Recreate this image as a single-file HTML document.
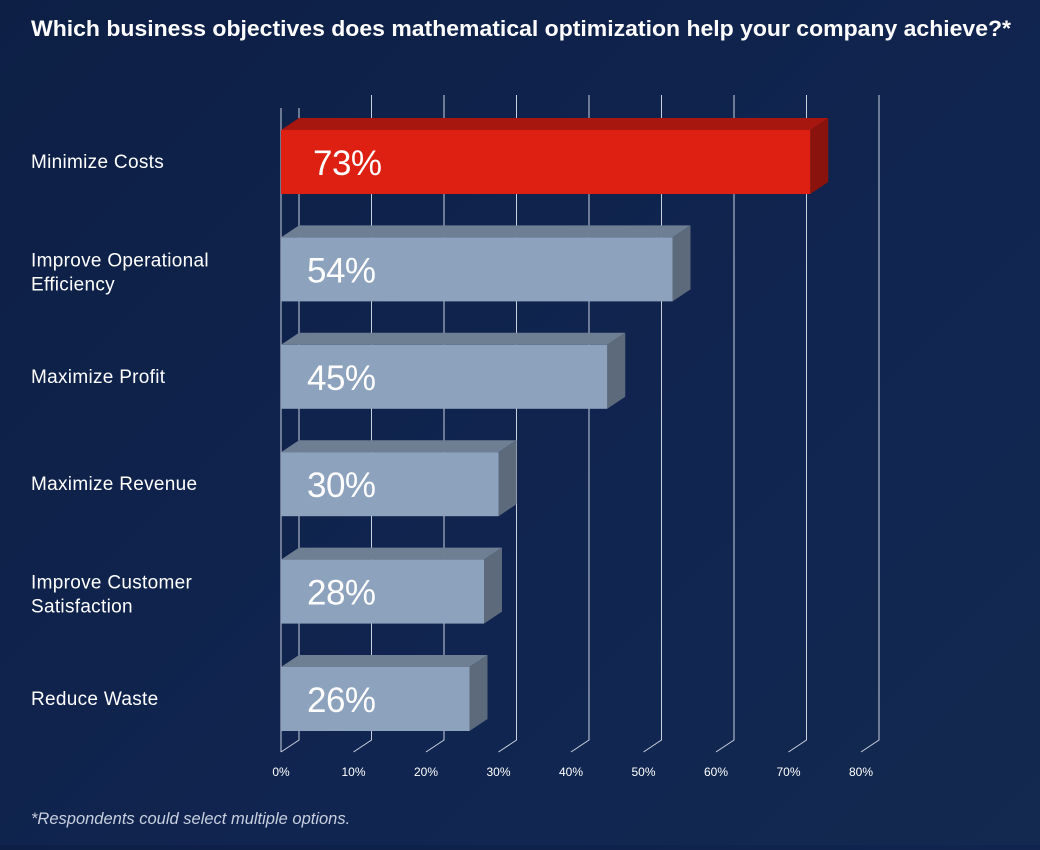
<!DOCTYPE html>
<html><head><meta charset="utf-8"><style>
body{margin:0;width:1040px;height:845px;overflow:hidden;background:linear-gradient(135deg,#0d1f45 0%,#102550 60%,#13294f 100%);font-family:"Liberation Sans",sans-serif;}
</style></head><body>
<svg width="1040" height="845" xmlns="http://www.w3.org/2000/svg">
<text x="31" y="36" fill="#fff" font-size="22" font-weight="bold" textLength="980" lengthAdjust="spacingAndGlyphs">Which business objectives does mathematical optimization help your company achieve?*</text>
<g id="grid"></g><g id="bars"></g><g id="labels"></g>
<text x="31" y="824" fill="#c8d0e0" font-size="16.5" font-style="italic">*Respondents could select multiple options.</text>
</svg>
<script>
const categories=[["Minimize Costs"],["Improve Operational","Efficiency"],["Maximize Profit"],["Maximize Revenue"],["Improve Customer","Satisfaction"],["Reduce Waste"]];
const values=[73,54,45,30,28,26];
const ticks=[0,10,20,30,40,50,60,70,80];
const NS="http://www.w3.org/2000/svg";
const x0=281,pxPer=7.25,dx=18,dy=12;
const xs=v=>x0+v*pxPer;
const rowY=i=>130+i*107.4;
function mk(t,a,p){const e=document.createElementNS(NS,t);for(const k in a)e.setAttribute(k,a[k]);p.appendChild(e);return e;}
const grid=document.getElementById('grid'),bars=document.getElementById('bars'),labels=document.getElementById('labels');
ticks.forEach(t=>{const x=xs(t);
const g=mk('polyline',{points:`${x+dx},${t==0?108:95} ${x+dx},740 ${x},752`,fill:'none',stroke:'#c9d1e0','stroke-width':1},grid);


const tx=mk('text',{x:x,y:776,fill:'#fff','font-size':12,'text-anchor':'middle'},labels);tx.textContent=t+'%';


});
mk('line',{x1:x0,y1:108,x2:x0,y2:752,stroke:'#c9d1e0','stroke-width':1},grid);
values.forEach((v,i)=>{const y=rowY(i),h=64,x1=xs(v),red=i==0;
const g=mk('g',{},bars);


mk('polygon',{points:`${x0},${y} ${x0+dx},${y-dy} ${x1+dx},${y-dy} ${x1},${y}`,fill:red?'#a8170f':'#6f7f93'},g);
mk('polygon',{points:`${x1},${y} ${x1+dx},${y-dy} ${x1+dx},${y+h-dy} ${x1},${y+h}`,fill:red?'#8a140d':'#5c6a7b'},g);
mk('rect',{x:x0,y:y,width:x1-x0,height:h,fill:red?'#de2012':'#8da2bd'},g);
const vt=mk('text',{x:x0+(red?32:26),y:y+45,fill:'#fff','font-size':35,'letter-spacing':-0.5},g);vt.textContent=v+'%';


const lines=categories[i];const cy=y+32-(lines.length-1)*12+(lines.length>1?3:0);
lines.forEach((l,j)=>{const t=mk('text',{x:31,y:cy+6+j*24,fill:'#fff','font-size':19,'letter-spacing':0.3},labels);t.textContent=l;

});
});
</script>
</body></html>
